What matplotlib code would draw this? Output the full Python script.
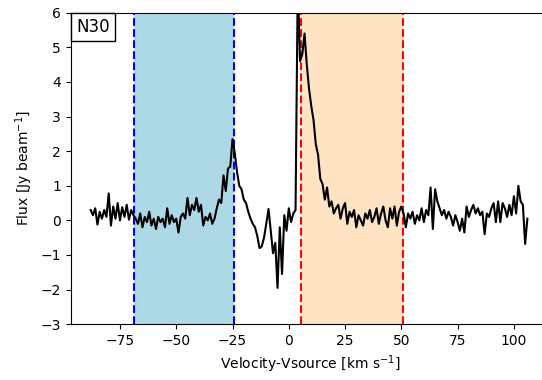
import numpy as np
import matplotlib
matplotlib.use("Agg")
import matplotlib.pyplot as plt
from matplotlib.offsetbox import AnchoredText

# spectrum channels: start velocity and channel width (km/s)
v_start = -88.0
v_step = 1.0
flux = [
    0.30, 0.15, 0.35, -0.12, 0.25, 0.05, 0.30, 0.10, 0.78, -0.15,   # -88
    0.40, 0.05, 0.50, 0.00, 0.38, 0.10, 0.45, 0.02, 0.30, 0.15,     # -78
    0.05, -0.10, 0.20, -0.20, 0.10, -0.05, 0.25, -0.15, 0.05, -0.25,  # -68
    0.10, -0.05, 0.05, -0.20, 0.35, -0.10, 0.15, -0.05, 0.05, -0.35,  # -58
    0.10, 0.20, 0.05, 0.65, 0.15, 0.45, 0.30, 0.65, 0.25, 0.45,     # -48
    -0.15, 0.10, 0.00, 0.20, -0.10, 0.05, 0.35, 0.60, 0.50, 1.30,   # -38
    0.85, 1.50, 1.55, 2.35, 1.95, 1.40, 1.00, 0.90, 0.60, 0.50,     # -28
    0.25, 0.05, -0.10, -0.20, -0.45, -0.80, -0.75, -0.50, -0.10, 0.33,  # -18
    -0.30, -0.95, -0.65, -1.95, -0.20, -1.55, 0.15, -0.30, 0.35, -0.05,  # -8
    0.20, 0.30, 6.90, 4.60, 4.80, 5.40, 4.50, 3.80, 3.30, 2.90,     # 2
    2.20, 1.90, 1.20, 1.05, 0.60, 0.95, 0.40, 0.55, 0.20, 0.35,     # 12
    0.45, 0.05, 0.35, 0.50, -0.10, 0.25, 0.10, 0.30, -0.20, 0.15,   # 22
    0.00, -0.15, 0.20, 0.05, 0.30, -0.05, 0.10, 0.35, -0.10, 0.20,  # 32
    0.40, 0.00, -0.20, 0.35, 0.05, 0.40, -0.15, 0.25, 0.40, 0.20,   # 42
    -0.20, 0.20, 0.05, 0.25, -0.10, 0.15, 0.00, 0.35, -0.05, 0.30,  # 52
    0.15, 0.95, -0.25, 0.90, 0.55, 0.35, 0.15, 0.30, 0.05, 0.25,    # 62
    0.10, -0.15, 0.15, -0.05, -0.30, 0.05, -0.35, 0.40, 0.10, 0.30,  # 72
    0.45, 0.20, 0.35, 0.15, 0.25, -0.40, 0.20, 0.10, 0.35, 0.50,    # 82
    -0.05, 0.55, -0.05, 0.50, 0.35, 0.10, 0.45, 0.15, 0.70, 0.20,   # 92
    1.00, 0.55, 0.45, -0.68, 0.05,                                  # 102
]

# velocity windows (km/s)
blue_win = [-68.6, -24.4]
red_win = [5.6, 50.7]
source = "N30"

velocity = v_start + v_step * np.arange(len(flux))

fig = plt.figure(figsize=(5.42, 3.80), dpi=100)
ax = fig.add_axes([0.1308, 0.1468, 0.885, 0.8197])

ax.axvspan(blue_win[0], blue_win[1], color="lightblue", lw=0)
ax.axvspan(red_win[0], red_win[1], color="bisque", lw=0)
for v in blue_win:
    ax.axvline(v, color="blue", ls="--", lw=1.5)
for v in red_win:
    ax.axvline(v, color="red", ls="--", lw=1.5)

ax.plot(velocity, flux, color="black", lw=1.5)

ax.set_xlim(-96.8, 116.3)
ax.set_ylim(-3, 6)
ax.spines["right"].set_visible(False)
ax.set_xlabel(r"Velocity-Vsource [km s$^{-1}$]")
ax.set_ylabel(r"Flux [Jy beam$^{-1}$]")

at = AnchoredText(source, loc="upper left", prop=dict(size=12), frameon=True,
                  pad=0.3, borderpad=0)
at.patch.set_edgecolor("black")
ax.add_artist(at)

fig.savefig("out.png", dpi=100)
